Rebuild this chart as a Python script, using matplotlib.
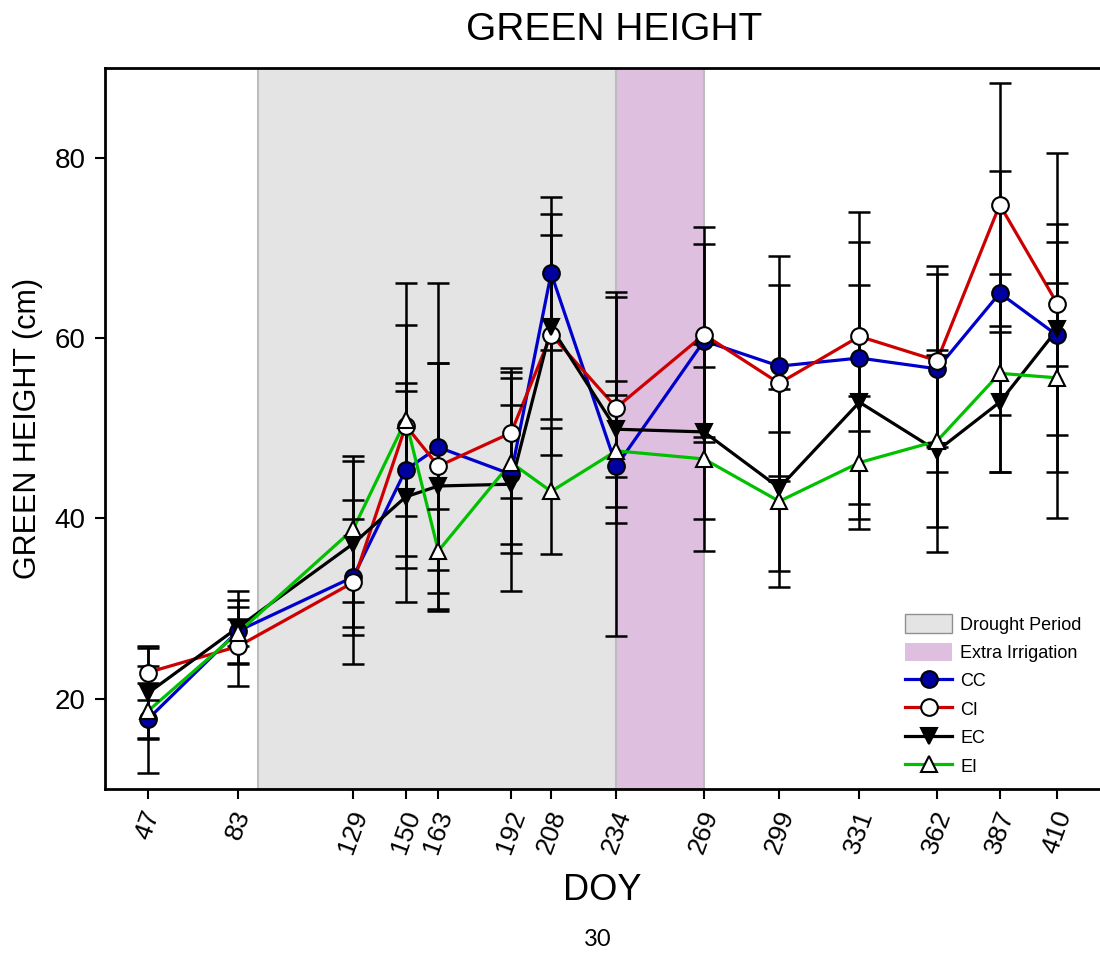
import matplotlib
matplotlib.use('Agg')
import matplotlib.pyplot as plt
from matplotlib.patches import Patch
from matplotlib.lines import Line2D

plt.rcParams['font.family'] = ['Liberation Sans', 'DejaVu Sans']

# DOY sampling dates
doy = [47, 83, 129, 150, 163, 192, 208, 234, 269, 299, 331, 362, 387, 410]

# mean green height (cm) and error per treatment
cc_mean = [17.7, 27.5, 33.5, 45.4, 47.9, 44.9, 67.2, 45.8, 59.7, 56.9, 57.8, 56.6, 65.0, 60.3]
cc_err = [5.9, 3.5, 6.4, 9.6, 18.2, 7.7, 8.5, 18.8, 10.7, 12.2, 16.2, 11.4, 13.5, 20.3]
ci_mean = [22.9, 25.8, 32.9, 50.3, 45.8, 49.5, 60.4, 52.3, 60.4, 55.0, 60.2, 57.5, 74.8, 63.8]
ci_err = [3.0, 4.4, 9.1, 15.8, 11.5, 7.2, 13.4, 12.8, 11.9, 10.9, 10.5, 9.6, 13.5, 6.9]
ec_mean = [20.6, 27.9, 37.2, 42.4, 43.6, 43.8, 61.2, 49.9, 49.6, 43.4, 52.9, 47.5, 52.9, 61.0]
ec_err = [5.0, 4.0, 9.2, 11.7, 13.7, 11.8, 10.2, 5.3, 9.7, 11.0, 13.0, 11.2, 7.8, 11.7]
ei_mean = [18.6, 27.3, 38.8, 50.9, 36.4, 46.2, 43.0, 47.5, 46.6, 41.9, 46.2, 48.6, 56.1, 55.6]
ei_err = [3.1, 1.5, 8.1, 10.6, 4.7, 10.0, 7.0, 6.2, 10.2, 7.7, 7.4, 9.5, 11.0, 10.5]

drought = (91, 234)
irrigation = (234, 269)

series = [
    ('CC', cc_mean, cc_err, '#0000CC', 'o', '#0000A0'),
    ('CI', ci_mean, ci_err, '#CC0000', 'o', 'white'),
    ('EC', ec_mean, ec_err, 'black', 'v', 'black'),
    ('EI', ei_mean, ei_err, '#00C000', '^', 'white'),
]

fig = plt.figure(figsize=(11, 9.55), dpi=100)
ax = fig.add_axes([0.0955, 0.174, 0.9045, 0.755])

ax.axvspan(*drought, facecolor='#E4E4E4', edgecolor='#BDBDBD', linewidth=1.5, zorder=0)
ax.axvspan(*irrigation, facecolor='#DFBFDF', edgecolor='#BDBDBD', linewidth=1.5, zorder=0)

# lines first, then black error bars, markers on top
for name, m, e, col, mk, fc in series:
    ax.plot(doy, m, color=col, linewidth=2.3, zorder=2)
for name, m, e, col, mk, fc in series:
    ax.errorbar(doy, m, yerr=e, fmt='none', ecolor='black', elinewidth=1.8,
                capsize=8, capthick=1.8, zorder=3)
for name, m, e, col, mk, fc in series:
    ax.plot(doy, m, linestyle='none', marker=mk, markersize=12,
            markerfacecolor=fc, markeredgecolor='black', markeredgewidth=1.5, zorder=4)

ax.set_xlim(30, 427)
ax.set_ylim(10, 90)
ax.set_xticks(doy)
ax.set_xticklabels([str(d) for d in doy], rotation=70, fontsize=19)
ax.set_yticks([20, 40, 60, 80])
ax.tick_params(axis='y', labelsize=20, length=7, width=1.5, direction='out', pad=7)
ax.tick_params(axis='x', length=7, width=1.5, direction='out', pad=6)
for s in ['left', 'bottom', 'top']:
    ax.spines[s].set_linewidth(2)
ax.spines['right'].set_visible(False)

ax.set_xlabel('DOY', fontsize=26, labelpad=12)
ax.set_ylabel('GREEN HEIGHT (cm)', fontsize=22, labelpad=8)
ax.set_title('GREEN HEIGHT', fontsize=28, pad=20, x=0.512)

handles = [
    Patch(facecolor='#E4E4E4', edgecolor='#909090', label='Drought Period'),
    Patch(facecolor='#DFBFDF', edgecolor='none', label='Extra Irrigation'),
]
for name, m, e, col, mk, fc in series:
    handles.append(Line2D([], [], color=col, linewidth=2.3, marker=mk, markersize=12,
                          markerfacecolor=fc, markeredgecolor='black',
                          markeredgewidth=1.5, label=name))
ax.legend(handles=handles, loc='upper left', bbox_to_anchor=(0.797, 0.252),
          frameon=False, fontsize=13, handlelength=2.6, handleheight=1.2,
          handletextpad=0.45, labelspacing=0.5, borderaxespad=0)

fig.text(0.5436, 0.016, '30', fontsize=17, family=['Lato', 'DejaVu Sans'],
         ha='center', va='center')

fig.savefig('out.png', dpi=100)
plt.close(fig)
